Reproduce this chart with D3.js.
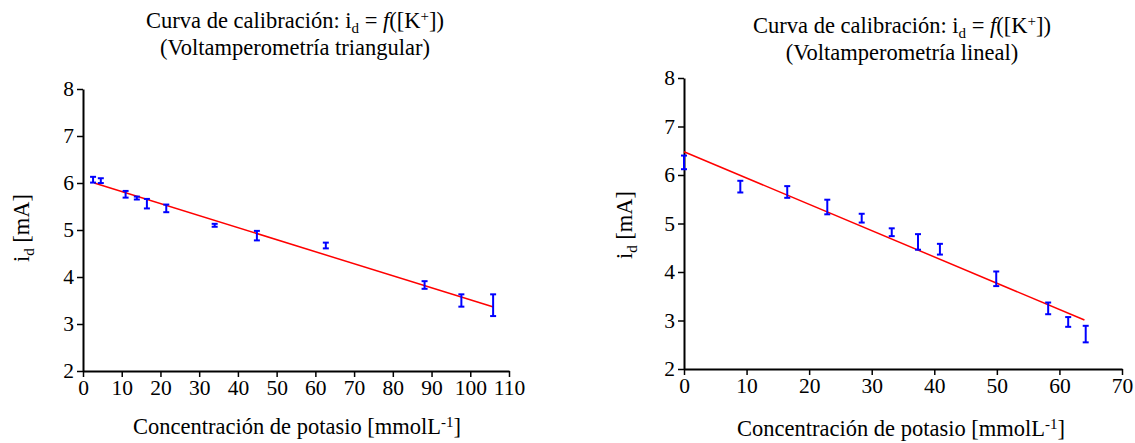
<!DOCTYPE html>
<html>
<head>
<meta charset="utf-8">
<script src="https://cdn.jsdelivr.net/npm/d3@7"></script>
<style>
body { margin: 0; background: #fff; }
svg text { font-family: "Liberation Serif", "Times New Roman", Times, "DejaVu Serif", serif; fill: #000; }
</style>
</head>
<body>
<div id="chart"></div>
<script>
// left panel: voltamperometria triangular
var triX   = [2.6, 4.6, 11.0, 13.9, 16.5, 21.5, 34.0, 44.9, 62.7, 88.2, 97.7, 105.9];
var triY   = [6.07, 6.05, 5.76, 5.68, 5.56, 5.46, 5.10, 4.88, 4.67, 3.83, 3.50, 3.40];
var triErr = [0.04, 0.03, 0.05, 0.01, 0.08, 0.06, 0.01, 0.08, 0.04, 0.06, 0.11, 0.21];
var triFitX = [2.9, 106.0];
var triFitY = [6.00, 3.36];
var triTicksX = [0, 10, 20, 30, 40, 50, 60, 70, 80, 90, 100, 110];

// right panel: voltamperometria lineal
var linX   = [0, 9.0, 16.5, 22.9, 28.4, 33.2, 37.4, 40.9, 49.9, 58.2, 61.4, 64.2];
var linY   = [6.26, 5.76, 5.65, 5.34, 5.11, 4.82, 4.62, 4.47, 3.86, 3.25, 2.97, 2.72];
var linErr = [0.12, 0.10, 0.10, 0.13, 0.07, 0.06, 0.14, 0.09, 0.13, 0.10, 0.08, 0.15];
var linFitX = [0, 64.0];
var linFitY = [6.48, 3.01];
var linTicksX = [0, 10, 20, 30, 40, 50, 60, 70];

var ticksY = [2, 3, 4, 5, 6, 7, 8];

var W = 1135, H = 443;
var serif = "'Liberation Serif', 'Times New Roman', Times, 'DejaVu Serif', serif";
var fs = 22.5, fsSmall = 15;

var svg = d3.select("#chart").append("svg")
    .attr("width", W)
    .attr("height", H);

function panel(p) {
    var x = d3.scaleLinear().domain([0, p.xmax]).range([p.left, p.right]);
    var y = d3.scaleLinear().domain([2, 8]).range([p.bottom, p.top]);

    var g = svg.append("g").attr("font-family", serif);

    var xAxis = g.append("g")
        .attr("transform", "translate(0," + p.bottom + ")")
        .call(d3.axisBottom(x).tickValues(p.ticksX).tickFormat(d3.format("d"))
            .tickSize(6).tickSizeOuter(0).tickPadding(3));
    var yAxis = g.append("g")
        .attr("transform", "translate(" + p.left + ",0)")
        .call(d3.axisLeft(y).tickValues(ticksY).tickFormat(d3.format("d"))
            .tickSize(6).tickSizeOuter(0).tickPadding(3));

    [xAxis, yAxis].forEach(function(a) {
        a.attr("font-family", serif).attr("font-size", 21.5);
        a.select(".domain").attr("stroke", "#000").attr("stroke-width", 2);
        a.selectAll(".tick line").attr("stroke", "#000").attr("stroke-width", 1.5);
        a.selectAll(".tick text").attr("fill", "#000");
    });

    // fit line
    g.append("path")
        .datum(d3.zip(p.fitX, p.fitY))
        .attr("fill", "none")
        .attr("stroke", "red")
        .attr("stroke-width", 1.5)
        .attr("d", d3.line().x(function(d) { return x(d[0]); }).y(function(d) { return y(d[1]); }));

    // error bars
    var pts = d3.zip(p.xs, p.ys, p.errs);
    var eb = g.append("g").attr("stroke", "#0000ff").attr("stroke-width", 2);
    var bars = eb.selectAll("g").data(pts).enter().append("g");
    bars.append("line")
        .attr("x1", function(d) { return x(d[0]); })
        .attr("x2", function(d) { return x(d[0]); })
        .attr("y1", function(d) { return y(d[1] - d[2]) + 1; })
        .attr("y2", function(d) { return y(d[1] + d[2]) - 1; });
    [1, -1].forEach(function(s) {
        bars.append("line")
            .attr("x1", function(d) { return x(d[0]) - 3; })
            .attr("x2", function(d) { return x(d[0]) + 3; })
            .attr("y1", function(d) { return y(d[1] + s * d[2]) - s; })
            .attr("y2", function(d) { return y(d[1] + s * d[2]) - s; });
    });

    // titles
    var t1 = g.append("text")
        .attr("x", p.titleX).attr("y", p.titleY)
        .attr("text-anchor", "middle")
        .attr("font-size", fs);
    t1.append("tspan").text("Curva de calibración: i");
    t1.append("tspan").attr("dy", 5).attr("font-size", fsSmall).text("d");
    t1.append("tspan").attr("dy", -5).text(" = ");
    t1.append("tspan").attr("font-style", "italic").text("f");
    t1.append("tspan").text("([K");
    t1.append("tspan").attr("dy", -7).attr("font-size", fsSmall).text("+");
    t1.append("tspan").attr("dy", 7).text("])");

    g.append("text")
        .attr("x", p.titleX).attr("y", p.titleY + 27)
        .attr("text-anchor", "middle")
        .attr("font-size", fs)
        .text(p.subtitle);

    // x label
    var xl = g.append("text")
        .attr("x", p.xLabelX).attr("y", p.xLabelY)
        .attr("text-anchor", "middle")
        .attr("font-size", fs);
    xl.append("tspan").text("Concentración de potasio [mmolL");
    xl.append("tspan").attr("dy", -7).attr("font-size", fsSmall).text("-1");
    xl.append("tspan").attr("dy", 7).text("]");

    // y label
    var yl = g.append("text")
        .attr("transform", "translate(" + p.yLabelX + "," + p.yLabelY + ") rotate(-90)")
        .attr("text-anchor", "middle")
        .attr("font-size", fs);
    yl.append("tspan").text("i");
    yl.append("tspan").attr("dy", 5).attr("font-size", fsSmall).text("d");
    yl.append("tspan").attr("dy", -5).text(" [mA]");
}

panel({
    xs: triX, ys: triY, errs: triErr, fitX: triFitX, fitY: triFitY, ticksX: triTicksX,
    xmax: 110, left: 83, right: 509, top: 89, bottom: 371,
    titleX: 295, titleY: 28, subtitle: "(Voltamperometría triangular)",
    xLabelX: 297, xLabelY: 434, yLabelX: 29, yLabelY: 228
});

panel({
    xs: linX, ys: linY, errs: linErr, fitX: linFitX, fitY: linFitY, ticksX: linTicksX,
    xmax: 70, left: 684, right: 1122, top: 78, bottom: 369,
    titleX: 902, titleY: 33, subtitle: "(Voltamperometría lineal)",
    xLabelX: 901, xLabelY: 436, yLabelX: 632, yLabelY: 225
});
</script>
</body>
</html>
